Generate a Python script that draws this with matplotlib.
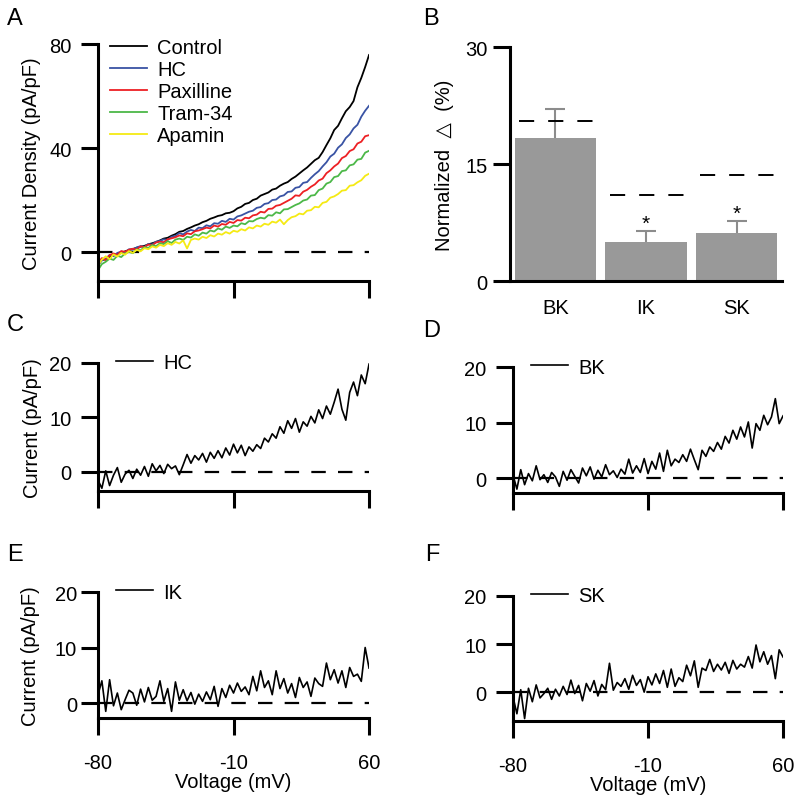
import numpy as np
import matplotlib
matplotlib.use('Agg')
import matplotlib.pyplot as plt

plt.rcParams['font.family'] = ['Liberation Sans', 'DejaVu Sans']
plt.rcParams['font.size'] = 14.5

# membrane voltage grid (mV), one sample every 2 mV
voltage = np.arange(-80, 61, 2)

# panel A: current density traces (pA/pF)
control = [-4.5, -3.0, -2.6, -1.8, -1.2, -0.6, -0.3, 0.4, 0.9, 1.3, 1.8, 2.2, 2.5, 3.1, 3.5, 4.0,
           4.6, 5.3, 5.6, 6.4, 7.0, 7.9, 8.2, 9.0, 9.6, 10.3, 10.8, 11.6, 12.1, 12.9, 13.4, 14.0,
           14.3, 15.0, 15.2, 15.8, 16.9, 17.5, 18.6, 19.0, 20.1, 20.6, 21.8, 22.4, 23.0, 24.1,
           24.5, 25.6, 26.4, 27.0, 28.2, 29.1, 30.3, 31.5, 32.6, 34.0, 35.4, 36.3, 38.5, 41.2,
           43.8, 47.0, 48.6, 51.5, 54.2, 55.8, 58.1, 63.4, 67.0, 71.2, 75.8]
hc = [-5.2, -3.1, -2.4, -1.0, -1.5, -0.2, 0.3, 0.0, 1.2, 1.0, 1.9, 2.4, 2.1, 3.2, 3.0, 4.1, 4.4,
      5.0, 4.8, 6.0, 6.3, 7.4, 6.9, 8.0, 8.6, 8.2, 9.5, 9.3, 10.4, 10.0, 11.2, 11.0, 12.1, 11.7,
      12.9, 12.6, 13.8, 14.2, 14.9, 15.6, 16.0, 17.1, 17.4, 18.6, 18.9, 20.1, 20.3, 21.5, 21.9,
      23.2, 23.4, 24.8, 25.1, 26.7, 27.0, 28.6, 30.0, 31.2, 33.0, 34.6, 36.8, 37.9, 40.2, 41.5,
      43.9, 45.3, 47.6, 49.0, 52.1, 54.4, 56.3]
paxilline = [-4.0, -2.2, -3.0, -1.1, -0.4, -1.0, 0.5, 0.2, 1.0, 1.4, 1.1, 2.3, 2.0, 3.0, 2.7, 3.8,
             4.1, 3.9, 5.0, 5.4, 5.8, 6.5, 6.2, 7.3, 7.0, 8.1, 8.4, 8.9, 9.5, 9.2, 10.3, 9.9, 10.9,
             10.6, 11.7, 11.3, 12.4, 12.2, 13.3, 13.1, 14.2, 14.5, 15.6, 15.3, 16.7, 16.8, 17.9,
             18.2, 19.0, 19.8, 20.6, 21.9, 21.7, 23.3, 24.0, 25.2, 26.1, 27.6, 28.3, 30.4, 31.5,
             33.0, 34.1, 36.2, 37.0, 38.9, 39.6, 41.8, 42.5, 44.6, 45.0]
tram34 = [-6.8, -4.5, -3.6, -2.4, -2.9, -1.3, -1.8, -0.4, 0.2, -0.3, 1.1, 0.8, 2.0, 1.7, 2.8, 2.4,
          3.5, 3.2, 4.3, 3.6, 4.9, 5.3, 4.8, 6.0, 5.7, 6.9, 6.4, 7.6, 7.2, 8.4, 8.0, 9.2, 8.7, 9.9,
          9.4, 10.3, 10.0, 11.2, 10.8, 12.0, 11.9, 12.8, 13.3, 13.0, 14.3, 14.1, 15.4, 15.0, 16.5,
          16.6, 17.4, 18.2, 18.8, 19.9, 20.3, 21.8, 22.0, 23.9, 24.5, 26.4, 27.0, 28.9, 29.3,
          31.2, 31.5, 33.4, 33.8, 35.6, 35.9, 38.3, 39.0]
apamin = [-5.0, -2.8, -1.5, -2.6, -0.8, -1.6, -0.2, -0.9, 0.5, -0.2, 1.0, 0.4, 1.6, 1.2, 2.3, 1.8,
          2.9, 2.4, 3.5, 2.9, 4.0, 3.4, 4.6, 1.5, 4.8, 5.3, 4.9, 6.0, 5.5, 6.6, 6.1, 7.2, 6.8, 7.8,
          7.2, 8.3, 7.9, 8.9, 8.4, 9.6, 9.2, 10.3, 9.9, 11.0, 10.6, 11.8, 11.4, 12.6, 10.8, 12.4,
          13.5, 13.9, 14.9, 14.6, 16.0, 16.2, 17.5, 17.3, 19.0, 19.4, 21.0, 21.5, 22.4, 23.7,
          23.9, 25.6, 25.8, 26.9, 27.7, 29.4, 30.2]
a_labels = ['Control', 'HC', 'Paxilline', 'Tram-34', 'Apamin']
a_colors = ['black', '#3953a4', '#ed2024', '#4cb848', '#f5ea14']

# panel B: normalized change (%)
channels = ['BK', 'IK', 'SK']
norm_mean = [18.3, 5.0, 6.15]
norm_sem = [3.7, 1.4, 1.55]
norm_ref = [20.5, 11.0, 13.6]
signif = [False, True, True]

# panels C-F: difference currents (pA/pF)
curr_hc = [-1.5, -3.0, 0.2, -2.5, -0.6, 0.8, -1.9, -0.4, 0.3, -1.2, 0.5, -0.6, 1.0, -0.8, 1.5, 0.2,
           1.2, -0.3, 1.4, 0.6, 1.1, -0.5, 1.3, 3.2, 1.6, 3.0, 2.2, 3.4, 1.8, 3.6, 2.5, 3.9, 2.6,
           4.4, 3.1, 5.1, 3.5, 4.9, 3.0, 4.6, 3.8, 5.0, 4.3, 6.2, 5.5, 7.0, 6.2, 8.3, 7.1, 9.4, 8.0,
           9.8, 7.3, 9.2, 8.4, 10.2, 9.0, 11.4, 9.8, 12.1, 10.6, 12.8, 15.2, 11.5, 9.5, 14.6,
           16.5, 14.0, 17.8, 16.2, 19.8]
curr_bk = [0.5, -2.0, 1.5, -1.2, 0.8, -0.5, 2.2, -0.3, 0.6, -0.8, 1.0, 0.2, -1.5, 1.2, -0.4, 1.5,
           0.3, -0.9, 1.8, 0.4, 2.0, -0.2, 1.4, 0.2, 2.4, 0.6, 1.3, 0.1, 1.6, 0.7, 3.4, 0.9, 2.2,
           1.0, 3.5, 0.8, 3.0, 1.6, 4.5, 1.2, 5.0, 2.2, 3.4, 2.8, 4.2, 3.0, 5.2, 3.3, 1.5, 5.0, 3.9,
           5.6, 4.8, 6.4, 5.2, 7.5, 6.3, 8.6, 7.0, 9.2, 7.4, 10.1, 5.4, 9.8, 8.6, 11.3, 9.6, 11.0,
           14.3, 9.8, 11.2]
curr_ik = [1.5, 4.0, -1.5, 4.2, -0.5, 1.8, -1.2, 0.6, 2.3, 1.8, -0.4, 2.5, 0.2, 2.8, 0.5, 1.2,
           4.0, 0.3, 2.6, -1.5, 3.8, 0.5, 2.4, 0.4, 1.9, -0.2, 1.6, 0.3, 2.0, 0.6, 3.0, -0.6, 2.6,
           1.0, 3.2, 1.8, 3.6, 2.1, 2.9, 1.5, 4.8, 2.2, 5.8, 2.8, 4.0, 1.5, 5.8, 2.6, 4.4, 1.8, 3.5,
           1.0, 4.6, 2.8, 3.8, 1.2, 4.5, 3.5, 3.0, 7.2, 4.2, 6.0, 3.6, 5.8, 2.8, 6.4, 4.8, 5.2,
           3.9, 10.0, 6.3]
curr_sk = [-1.0, -4.5, 0.5, -5.5, 0.8, -2.0, 1.5, -1.2, -0.3, 0.8, -1.5, 0.6, -0.8, 1.2, -0.5,
           2.5, -0.3, 1.4, -1.8, 1.8, 0.2, 2.4, -0.8, 1.6, 0.5, 6.0, 0.4, 2.0, 1.2, 2.8, 0.6, 3.5,
           1.4, 2.6, 0.0, 3.2, 1.5, 3.8, 1.8, 4.5, 1.0, 4.8, 1.2, 3.0, 2.2, 5.6, 3.4, 6.5, 1.0,
           5.0, 4.5, 6.8, 4.3, 5.8, 4.6, 6.2, 3.9, 6.6, 4.8, 5.8, 5.2, 7.4, 5.0, 9.8, 6.3, 8.4,
           5.8, 7.6, 2.8, 8.8, 7.3]

v_ticks = [-80, -10, 60]

fig = plt.figure(figsize=(8, 8.03), dpi=100)


def style_axes(ax, ypad=7):
    """thick left/bottom spines with long outward ticks"""
    for side in ['top', 'right']:
        ax.spines[side].set_visible(False)
    for side in ['left', 'bottom']:
        ax.spines[side].set_linewidth(2.2)
    ax.tick_params(direction='out', length=12, width=2.2, labelsize=14.5, pad=4)
    ax.tick_params(axis='y', pad=ypad)


def zero_line(ax):
    ax.axhline(0, color='black', lw=1.6, dashes=(6.5, 5.5), zorder=1)


def trace_panel(rect, trace, name, ylim, xlabels, ylabel, ypad=7, ylabelpad=5):
    ax = fig.add_axes(rect)
    style_axes(ax, ypad)
    zero_line(ax)
    ax.plot(voltage, trace, color='black', lw=1.2, label=name, zorder=2)
    ax.set_xlim(-80, 60)
    ax.set_ylim(*ylim)
    ax.set_xticks(v_ticks)
    ax.set_yticks([0, 10, 20])
    if xlabels:
        ax.set_xticklabels([str(v) for v in v_ticks])
        ax.set_xlabel('Voltage (mV)', labelpad=0)
        ax.tick_params(axis='x', pad=13)
    else:
        ax.set_xticklabels([])
    if ylabel:
        ax.set_ylabel('Current (pA/pF)', labelpad=ylabelpad)
    ax.legend(loc='center left', bbox_to_anchor=(0.065, 1.0), frameon=False,
              handlelength=1.85, handletextpad=0.5, borderpad=0, borderaxespad=0)
    return ax


# panel A
axA = fig.add_axes([0.1225, 0.6488, 0.3388, 0.2951])
style_axes(axA)
zero_line(axA)
for trace, lab, col in zip([control, hc, paxilline, tram34, apamin], a_labels, a_colors):
    axA.plot(voltage, trace, color=col, lw=1.3, label=lab, zorder=2)
axA.set_xlim(-80, 60)
axA.set_ylim(-11, 80)
axA.set_xticks(v_ticks)
axA.set_xticklabels([])
axA.set_yticks([0, 40, 80])
axA.set_ylabel('Current Density (pA/pF)', labelpad=6)
axA.legend(loc='center left', bbox_to_anchor=(0.044, 0.80), frameon=False,
           handlelength=1.85, handletextpad=0.5, labelspacing=0.15,
           borderpad=0, borderaxespad=0)

# panel B
axB = fig.add_axes([0.6375, 0.6488, 0.34, 0.2914])
style_axes(axB, ypad=4)
pos = np.arange(len(channels))
axB.errorbar(pos, norm_mean, yerr=norm_sem, fmt='none', ecolor='#8c8c8c',
             elinewidth=1.5, capsize=7, capthick=1.5, zorder=1)
axB.bar(pos, norm_mean, width=0.9, color='#999999', zorder=2)
for p, ref in zip(pos, norm_ref):
    axB.plot([p - 0.4, p + 0.42], [ref, ref], color='black', lw=1.4, dashes=(7.8, 7.2), zorder=3)
for p, m, e, s in zip(pos, norm_mean, norm_sem, signif):
    if s:
        axB.text(p, m + e + 1.0, '*', ha='center', va='center', fontsize=15)
axB.set_xlim(-0.5, 2.5)
axB.set_ylim(0, 30)
axB.set_yticks([0, 15, 30])
axB.set_xticks(pos)
axB.set_xticklabels(channels)
axB.tick_params(axis='x', length=0, pad=12)
axB.set_ylabel('Normalized  \u25b3  (%)', labelpad=8)

# panels C-F
trace_panel([0.1225, 0.3873, 0.3388, 0.1594], curr_hc, 'HC', (-3.5, 20), False, True)
trace_panel([0.6413, 0.3848, 0.3375, 0.1569], curr_bk, 'BK', (-2.7, 20), False, False)
trace_panel([0.1225, 0.1046, 0.3388, 0.1569], curr_ik, 'IK', (-2.7, 20), True, True,
            ypad=3, ylabelpad=11)
trace_panel([0.6413, 0.1009, 0.3375, 0.1557], curr_sk, 'SK', (-6, 20), True, False)

# panel letters
for letter, x, y in [('A', 7, 8), ('B', 423, 8), ('C', 7, 314), ('D', 423, 320),
                     ('E', 7, 544), ('F', 425, 544)]:
    fig.text(x / 800, 1 - y / 803, letter, fontsize=17, ha='left', va='top')

fig.savefig('out.png', dpi=100)
